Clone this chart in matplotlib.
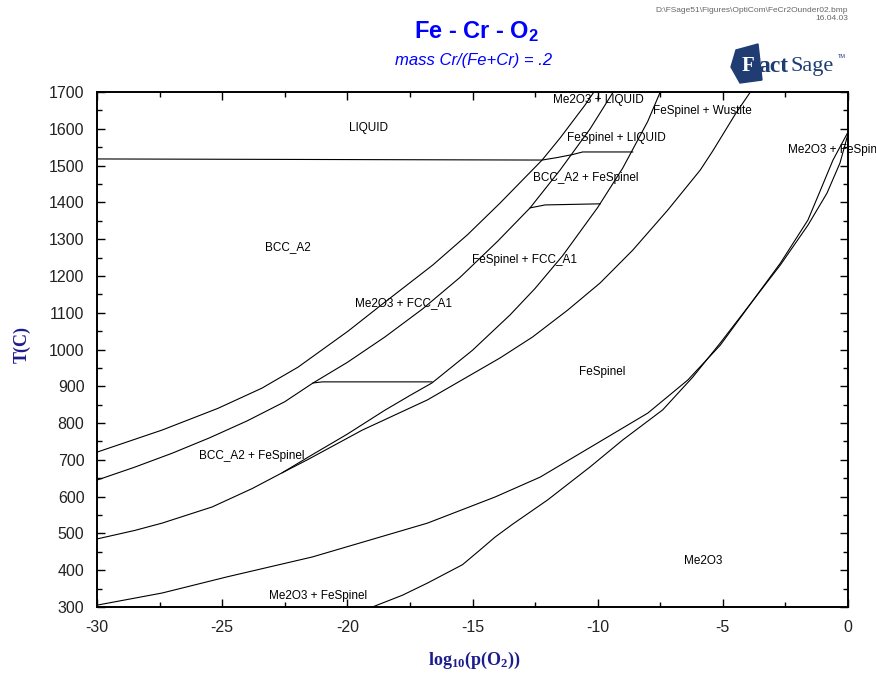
import numpy as np
import matplotlib.pyplot as plt
from matplotlib.patches import Polygon

plt.rcParams['font.family'] = ['Liberation Sans', 'DejaVu Sans']
plt.rcParams['mathtext.default'] = 'regular'

W, H = 876, 673

# phase boundaries: log10(pO2) against T(C)
bcc_top_x = [-30, -27.4, -25.17, -23.41, -21.97, -19.97, -18.57, -16.58, -15.2,
             -13.9, -12.22, -11.5, -10.5, -10.15]
bcc_top_t = [721, 781, 840, 895, 952, 1050, 1125, 1230, 1312,
             1398, 1515, 1575, 1665, 1700]

fcc_top_x = [-30, -28.5, -27, -25.5, -24, -22.5, -21.37, -20, -18.5, -17,
             -15.5, -14, -12.7, -11.5, -10.3, -9.38]
fcc_top_t = [645, 680, 718, 760, 806, 858, 909, 965, 1034, 1110,
             1196, 1294, 1385, 1488, 1600, 1700]

fcc_low_x = [-22.6, -21.5, -20, -18.5, -17.5, -16.62, -15, -13.5, -12.5, -11.4,
             -10, -9, -8, -7.5]
fcc_low_t = [665, 710, 770, 835, 875, 909, 998, 1094, 1166, 1255,
             1386, 1493, 1620, 1700]

spinel_top_x = [-30, -28.5, -27.4, -25.4, -23.8, -22.6, -21.6, -19.4, -16.8, -13.9,
                -12.6, -11.2, -9.9, -8.6, -7.2, -5.9, -5.4, -4.5, -3.9]
spinel_top_t = [485, 508, 528, 572, 622, 665, 700, 781, 863, 977,
                1034, 1107, 1181, 1270, 1379, 1488, 1540, 1640, 1700]

spinel_low_x = [-30, -27.4, -24.8, -21.4, -16.8, -14.1, -12.3, -10.0, -8.0, -6.4,
                -5.1, -2.7, -1.6, -1.15, -0.6, 0]
spinel_low_t = [305, 338, 382, 436, 528, 599, 653, 746, 827, 917,
                1012, 1235, 1352, 1425, 1515, 1591]

me2o3_x = [-19.0, -17.8, -16.8, -15.4, -14.7, -14.1, -13.4, -12.0, -10.3, -9.0,
           -7.4, -6.2, -5.1, -2.7, -1.6, -0.84, -0.32, 0]
me2o3_t = [300, 332, 365, 415, 455, 490, 525, 591, 681, 754,
           836, 925, 1018, 1230, 1338, 1425, 1507, 1586]

# isotherms
liq_x = [-30, -12.22, -11.6, -11.0, -10.6, -8.6]
liq_t = [1518, 1515, 1522, 1530, 1537, 1537]

t1400_x = [-12.7, -12.1, -9.9]
t1400_t = [1385, 1393, 1396]

t910_x = [-21.37, -21.0, -16.62]
t910_t = [909, 912, 912]

region_names = ['LIQUID', 'BCC_A2', 'Me2O3 + FCC_A1', 'BCC_A2 + FeSpinel',
                'Me2O3 + FeSpinel', 'Me2O3 + LIQUID', 'FeSpinel + Wustite',
                'FeSpinel + LIQUID', 'BCC_A2 + FeSpinel', 'FeSpinel + FCC_A1',
                'FeSpinel', 'Me2O3']
region_x = [-19.17, -22.37, -17.77, -23.81, -21.17, -9.98, -5.83,
            -9.27, -10.46, -12.94, -9.82, -5.79]
region_t = [1602, 1279, 1126, 711, 330, 1678, 1648,
            1575, 1466, 1243, 939, 425]

xticks = [-30, -25, -20, -15, -10, -5, 0]
yticks = list(range(300, 1701, 100))


def fx(px):
    return px / W


def fy(py):
    return 1 - py / H


fig = plt.figure(figsize=(W / 100, H / 100), dpi=100)
ax = fig.add_axes([fx(97), fy(607), 751 / W, 515 / H])

curves = [(bcc_top_x, bcc_top_t), (fcc_top_x, fcc_top_t), (fcc_low_x, fcc_low_t),
          (spinel_top_x, spinel_top_t), (spinel_low_x, spinel_low_t),
          (me2o3_x, me2o3_t), (liq_x, liq_t), (t1400_x, t1400_t), (t910_x, t910_t)]
for xs, ts in curves:
    ax.plot(xs, ts, color='black', lw=0.8)

for name, x, t in zip(region_names, region_x, region_t):
    ax.text(x, t, name, ha='center', va='center', fontsize=8.5, color='black')
# label that runs past the right edge
ax.text(-2.39, 1542, 'Me2O3 + FeSpinel', ha='left', va='center', fontsize=8.5,
        clip_on=False)

ax.set_xlim(-30, 0)
ax.set_ylim(300, 1700)
ax.set_xticks(xticks)
ax.set_xticklabels([str(v) for v in xticks])
ax.set_yticks(yticks)
ax.set_xticks(np.arange(-30, 0.1, 2.5), minor=True)
ax.set_yticks(np.arange(300, 1701, 50), minor=True)
ax.tick_params(which='both', direction='in', top=True, right=True,
               labelsize=11.5, pad=9, labelcolor='#222222', width=1)
ax.tick_params(which='major', length=6)
ax.tick_params(which='minor', length=3.5)
for sp in ax.spines.values():
    sp.set_linewidth(1.4)

navy = '#1c1c8c'
fig.text(fx(477), fy(32), 'Fe - Cr - O$_2$', ha='center', va='center',
         fontsize=17, fontweight='bold', color='#0000ff')
fig.text(fx(474), fy(61), 'mass Cr/(Fe+Cr) = .2', ha='center', va='center',
         fontsize=12, fontstyle='italic', color='#0000ff')
fig.text(fx(22), fy(345), 'T(C)', rotation=90, ha='center', va='center',
         family='Liberation Serif', fontweight='bold', fontsize=13, color=navy)
fig.text(fx(474), fy(660), 'log$_{10}$(p(O$_2$))', ha='center', va='center',
         family='Liberation Serif', fontweight='bold', fontsize=13, color=navy)

fig.text(fx(848), fy(10), r'D:\FSage51\Figures\OptiCom\FeCr2Ounder02.bmp',
         ha='right', va='center', fontsize=6, color='#666666')
fig.text(fx(848), fy(19), '16.04.03', ha='right', va='center', fontsize=6,
         color='#666666')

# FactSage logo
logo = '#1f3d73'
shape = [(736, 50), (758, 44), (762, 80), (740, 83), (731, 67)]
fig.patches.append(Polygon([(fx(px), fy(py)) for px, py in shape], closed=True,
                           transform=fig.transFigure, color=logo))
fig.text(fx(748), fy(66), 'F', ha='center', va='center', fontsize=15,
         fontweight='bold', family='Liberation Serif', color='white')
fig.text(fx(758), fy(67), 'act', ha='left', va='center', fontsize=17,
         fontweight='bold', family='Liberation Serif', color=logo)
fig.text(fx(790), fy(67), 'Sage', ha='left', va='center', fontsize=16,
         family='Liberation Serif', color=logo)
fig.text(fx(838), fy(57), 'TM', ha='left', va='center', fontsize=4, color=logo)

fig.savefig('out.png', dpi=100)
